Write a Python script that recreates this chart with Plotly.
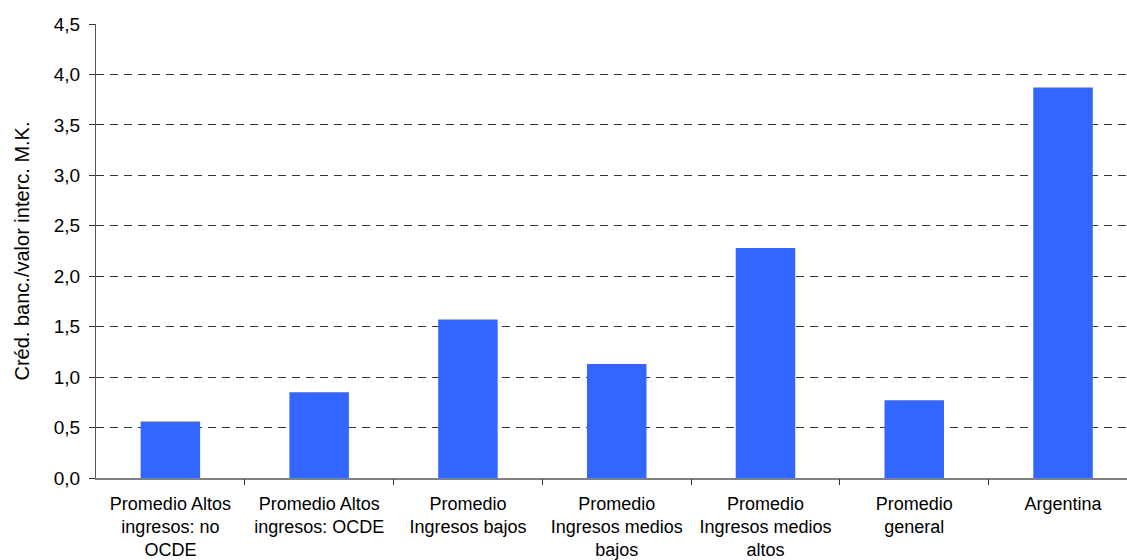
import plotly.graph_objects as go

categories = [
    "Promedio Altos<br>ingresos: no<br>OCDE",
    "Promedio Altos<br>ingresos: OCDE",
    "Promedio<br>Ingresos bajos",
    "Promedio<br>Ingresos medios<br>bajos",
    "Promedio<br>Ingresos medios<br>altos",
    "Promedio<br>general",
    "Argentina",
]
values = [0.56, 0.85, 1.57, 1.13, 2.28, 0.77, 3.87]
y_ticks = [0.0, 0.5, 1.0, 1.5, 2.0, 2.5, 3.0, 3.5, 4.0, 4.5]

font_family = "Liberation Sans, Arial, sans-serif"

fig = go.Figure(
    go.Bar(
        x=list(range(len(categories))),
        y=values,
        width=0.4,
        marker=dict(color="#3366FF", line=dict(width=0)),
    )
)

fig.update_layout(
    width=1127,
    height=560,
    margin=dict(l=96, r=0, t=24, b=82),
    paper_bgcolor="white",
    plot_bgcolor="white",
    separators=",.",
    showlegend=False,
    font=dict(family=font_family, color="black"),
)

fig.update_xaxes(
    range=[-0.5, 6.43],
    tickmode="array",
    tickvals=list(range(len(categories))),
    ticktext=categories,
    tickfont=dict(size=18),
    ticklabelstandoff=8,
    showgrid=False,
    showline=True,
    linecolor="#808080",
    linewidth=2,
    ticks="",
    zeroline=False,
)

# boundary ticks between categories
fig.update_layout(
    xaxis2=dict(
        overlaying="x",
        matches="x",
        tickmode="array",
        tickvals=[i + 0.5 for i in range(len(categories) - 1)],
        ticktext=[""] * (len(categories) - 1),
        ticks="outside",
        ticklen=6,
        tickcolor="#333333",
        tickwidth=1,
        showgrid=False,
        showline=False,
        zeroline=False,
        side="bottom",
        anchor="y",
    )
)
fig.add_trace(go.Scatter(x=[0], y=[0], xaxis="x2", mode="markers",
                         marker=dict(opacity=0), hoverinfo="skip"))

fig.update_yaxes(
    range=[0, 4.5],
    tickmode="array",
    tickvals=y_ticks,
    tickformat=".1f",
    tickfont=dict(size=19),
    ticklabelstandoff=5,
    showgrid=True,
    gridcolor="#333333",
    griddash="8px,6px",
    gridwidth=1,
    showline=True,
    linecolor="#555555",
    linewidth=1,
    ticks="outside",
    ticklen=6,
    tickcolor="#333333",
    zeroline=False,
    title=dict(text="Créd. banc./valor interc. M.K.", font=dict(size=20), standoff=18),
)

fig.write_html("out.html")
